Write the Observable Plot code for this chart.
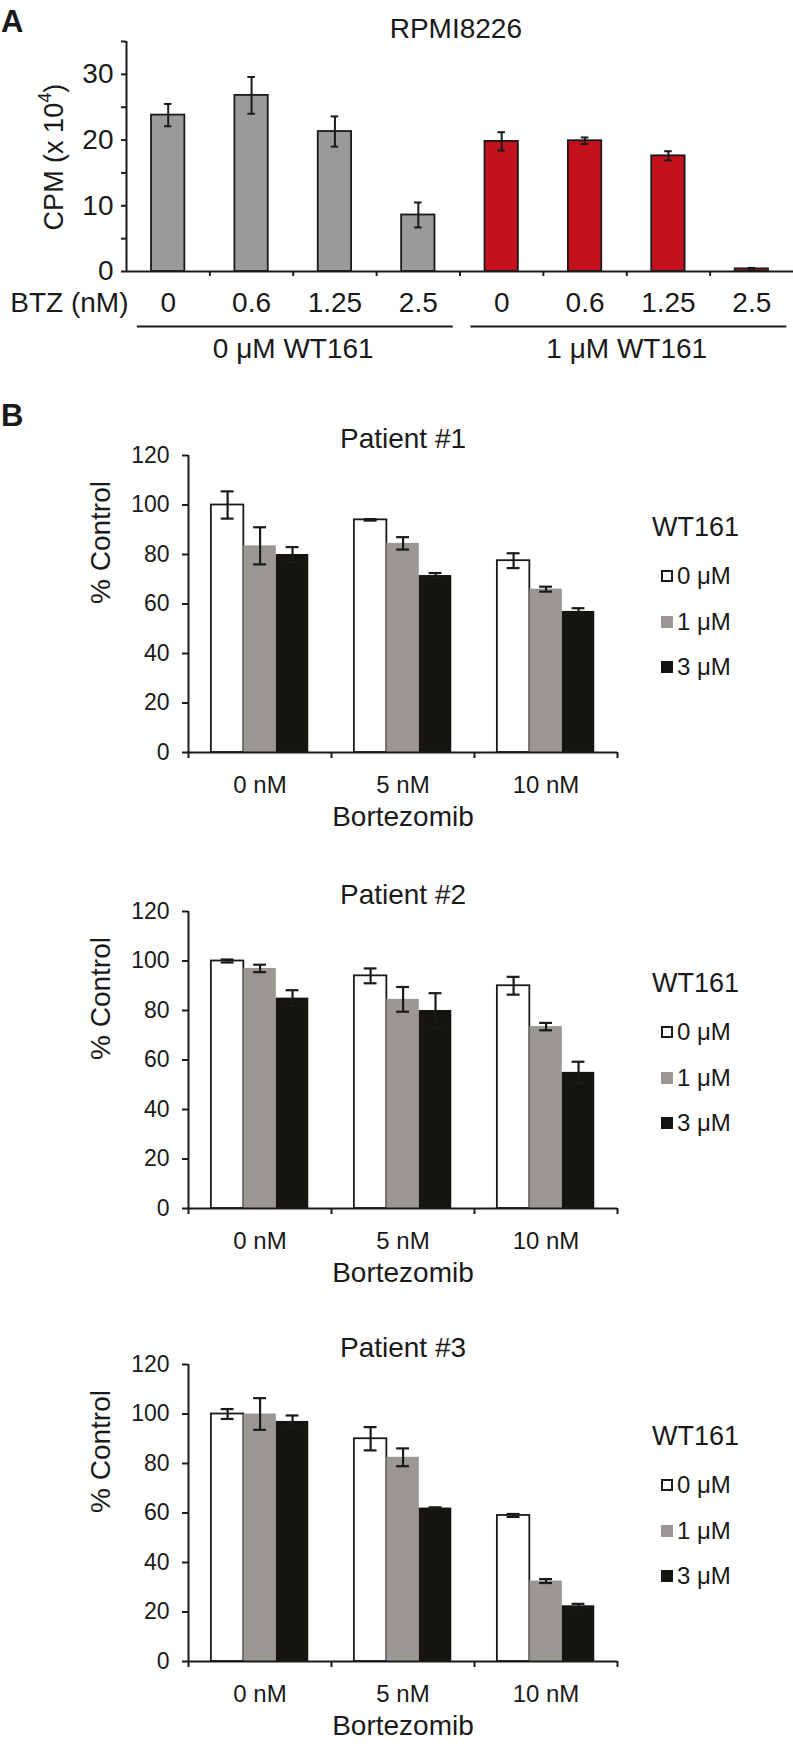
<!DOCTYPE html>
<html><head><meta charset="utf-8">
<script src="https://cdn.jsdelivr.net/npm/d3@7"></script>
<script src="https://cdn.jsdelivr.net/npm/@observablehq/plot@0.6"></script>
<style>
body{margin:0;background:#fff;}
#root{position:relative;width:793px;height:1746px;overflow:hidden;font-family:"Liberation Sans",Arial,sans-serif;color:#1a1a1a;}
.panel{position:absolute;left:0;}
.plab{position:absolute;font-weight:bold;font-size:31px;line-height:1;}
.rot{position:absolute;transform:translate(-50%,-50%) rotate(-90deg);white-space:nowrap;line-height:1;}
.rot sup{font-size:0.68em;vertical-align:0.62em;line-height:0;}
.legtitle{position:absolute;font-size:27px;line-height:1;white-space:nowrap;transform:translateY(-50%);}
.legitem{position:absolute;font-size:24px;line-height:1;white-space:nowrap;transform:translateY(-50%);display:flex;align-items:center;}
.sw{display:inline-block;width:12px;height:12px;margin-right:4px;box-sizing:border-box;}
</style></head>
<body><div id="root"></div>
<script>
// ---------- Data ----------
const btzLabels = ["0", "0.6", "1.25", "2.5", "0", "0.6", "1.25", "2.5"];
const wtGroups = ["0 μM WT161", "1 μM WT161"];
const cpmValues = [23.8, 26.8, 21.3, 8.6, 19.8, 19.9, 17.6, 0.4];
const cpmErrors = [1.7, 2.8, 2.3, 1.9, 1.4, 0.5, 0.7, 0.15];

const bortezomib = ["0 nM", "5 nM", "10 nM"];
const wt161Doses = ["0 μM", "1 μM", "3 μM"];
const patientTitles = ["Patient #1", "Patient #2", "Patient #3"];
// values[bortezomib][wt161]
const patient1Values = [[100, 83.5, 80], [94, 84.5, 71.5], [77.5, 66, 57]];
const patient1Errors = [[5.5, 7.5, 3], [0.3, 2.5, 1], [3, 1, 1.3]];
const patient2Values = [[100, 97, 85], [94, 84.5, 80], [90, 73.5, 55]];
const patient2Errors = [[0.6, 1.5, 3.2], [3, 5, 7], [3.6, 1.5, 4.3]];
const patient3Values = [[100, 100, 97], [90, 82.5, 62], [59, 32.5, 22.5]];
const patient3Errors = [[2, 6.4, 2.4], [4.7, 3.6, 0.3], [0.6, 0.8, 0.8]];

// ---------- Styles ----------
const FONT = '"Liberation Sans", Arial, sans-serif';
const INK = "#1a1a1a";
const GRAY_A = "#9a9a9a";
const RED_A = "#c3111d";
const DOSE_COLORS = ["#ffffff", "#9b9894", "#16140f"];

const root = document.getElementById("root");
function place(node, top) {
  const d = document.createElement("div");
  d.className = "panel";
  d.style.top = top + "px";
  d.appendChild(node);
  root.appendChild(d);
  return d;
}
function html(cls, text, style) {
  const d = document.createElement("div");
  d.className = cls;
  d.innerHTML = text;
  Object.assign(d.style, style);
  root.appendChild(d);
  return d;
}

// ---------- Panel A ----------
const aData = btzLabels.map((b, i) => ({i, btz: b, group: i < 4 ? 0 : 1, v: cpmValues[i], e: cpmErrors[i]}));
const A = Plot.plot({
  width: 793, height: 360,
  marginLeft: 126, marginRight: 0, marginTop: 41, marginBottom: 89,
  x: {type: "linear", domain: [0, 8]},
  y: {domain: [0, 35]},
  style: {fontFamily: FONT, fontSize: "28px", color: INK, background: "transparent", overflow: "visible"},
  marks: [
    Plot.rectY(aData, {x1: d => d.i + 0.3, x2: d => d.i + 0.7, y: "v", fill: d => d.group ? RED_A : GRAY_A, stroke: INK, strokeWidth: 1.8}),
    Plot.ruleX(aData, {x: d => d.i + 0.5, y1: d => d.v - d.e, y2: d => d.v + d.e, stroke: INK, strokeWidth: 2}),
    Plot.ruleY(aData, {y: d => d.v + d.e, x1: d => d.i + 0.455, x2: d => d.i + 0.545, stroke: INK, strokeWidth: 2}),
    Plot.ruleY(aData, {y: d => d.v - d.e, x1: d => d.i + 0.455, x2: d => d.i + 0.545, stroke: INK, strokeWidth: 2}),
    Plot.ruleX([0], {y1: 0, y2: 35, stroke: INK, strokeWidth: 2}),
    Plot.ruleY([0], {x1: 0, x2: 8, stroke: INK, strokeWidth: 2}),
    Plot.axisY({ticks: d3.range(0, 36, 5), tickFormat: d => d % 10 === 0 ? String(d) : "", tickSize: 5, tickPadding: 8, strokeWidth: 2, label: null}),
    Plot.axisX({ticks: d3.range(1, 8), tickSize: 5, tickFormat: () => "", strokeWidth: 2, label: null}),
    Plot.axisX({ticks: aData.map(d => d.i + 0.5), tickSize: 0, tickPadding: 21, fontSize: 28, tickFormat: d => btzLabels[Math.floor(d)], label: null}),
    Plot.ruleY(wtGroups, {y: 0, x1: (d, k) => k * 4 + 0.13, x2: (d, k) => k * 4 + 3.92, dy: 55, stroke: INK, strokeWidth: 1.8}),
    Plot.text(wtGroups, {x: (d, k) => k * 4 + 2, frameAnchor: "bottom", lineAnchor: "middle", dy: 78, text: d => d, fontSize: 28}),
    Plot.text(["RPMI8226"], {x: 3.95, frameAnchor: "top", lineAnchor: "middle", dy: -12, text: d => d, fontSize: 28}),
    Plot.text(["BTZ (nM)"], {x: 0, frameAnchor: "bottom", lineAnchor: "middle", dy: 32, dx: 2, textAnchor: "end", text: d => d, fontSize: 28})
  ]
});
place(A, 0);
html("plab", "A", {left: "1px", top: "6px"});
html("rot", "CPM (x 10<sup>4</sup>)", {left: "54px", top: "157px", fontSize: "27px"});

// ---------- Panel B ----------
const W = 0.227, START = 0.16;
function patientPlot(title, values, errors) {
  const data = [];
  bortezomib.forEach((b, g) => wt161Doses.forEach((w, j) => data.push({g, j, btz: b, dose: w, v: values[g][j], e: errors[g][j]})));
  const x1 = d => d.g + START + d.j * W;
  const xc = d => d.g + START + d.j * W + W / 2;
  return Plot.plot({
    width: 793, height: 432,
    marginLeft: 188, marginRight: 176, marginTop: 55, marginBottom: 80,
    x: {type: "linear", domain: [0, 3]},
    y: {domain: [0, 120]},
    style: {fontFamily: FONT, fontSize: "23px", color: INK, background: "transparent", overflow: "visible"},
    marks: [
      Plot.rectY(data, {x1, x2: d => x1(d) + W, y: "v", fill: d => DOSE_COLORS[d.j], stroke: d => d.j === 0 ? INK : "none", strokeWidth: 1.8}),
      Plot.ruleX(data, {x: xc, y1: d => d.v - d.e, y2: d => d.v + d.e, stroke: INK, strokeWidth: 2.2}),
      Plot.ruleY(data, {y: d => d.v + d.e, x1: d => xc(d) - 0.045, x2: d => xc(d) + 0.045, stroke: INK, strokeWidth: 2.2}),
      Plot.ruleY(data, {y: d => d.v - d.e, x1: d => xc(d) - 0.045, x2: d => xc(d) + 0.045, stroke: INK, strokeWidth: 2.2}),
      Plot.ruleX([0], {y1: 0, y2: 120, stroke: INK, strokeWidth: 2}),
      Plot.ruleY([0], {x1: 0, x2: 3, stroke: INK, strokeWidth: 2}),
      Plot.axisY({ticks: d3.range(0, 121, 20), tickSize: 6, tickPadding: 13, strokeWidth: 2, label: null}),
      Plot.axisX({ticks: [0, 1, 2, 3], tickSize: 6, tickFormat: () => "", strokeWidth: 2, label: null}),
      Plot.axisX({ticks: [0.5, 1.5, 2.5], tickSize: 0, tickPadding: 23, fontSize: 24, tickFormat: d => bortezomib[Math.floor(d)], label: null}),
      Plot.text([title], {x: 1.5, frameAnchor: "top", lineAnchor: "middle", dy: -16, text: d => d, fontSize: 28}),
      Plot.text(["Bortezomib"], {x: 1.5, frameAnchor: "bottom", lineAnchor: "middle", dy: 65, text: d => d, fontSize: 28}),
      Plot.text(["% Control"], {frameAnchor: "left", lineAnchor: "middle", dx: -87, rotate: -90, text: d => d, fontSize: 28})
    ]
  });
}
const patients = [
  {values: patient1Values, errors: patient1Errors, axisTop: 455},
  {values: patient2Values, errors: patient2Errors, axisTop: 911},
  {values: patient3Values, errors: patient3Errors, axisTop: 1364}
];
patients.forEach((p, k) => {
  place(patientPlot(patientTitles[k], p.values, p.errors), p.axisTop - 55);
  html("legtitle", "WT161", {left: "652px", top: (p.axisTop + 72) + "px"});
  wt161Doses.forEach((w, j) => {
    const sw = `<span class="sw" style="background:${DOSE_COLORS[j]};border:${j === 0 ? "2px solid " + INK : "none"}"></span>`;
    html("legitem", sw + w, {left: "661px", top: (p.axisTop + 121 + j * 45.5) + "px"});
  });
});
html("plab", "B", {left: "1px", top: "400px"});
</script>
</body></html>
